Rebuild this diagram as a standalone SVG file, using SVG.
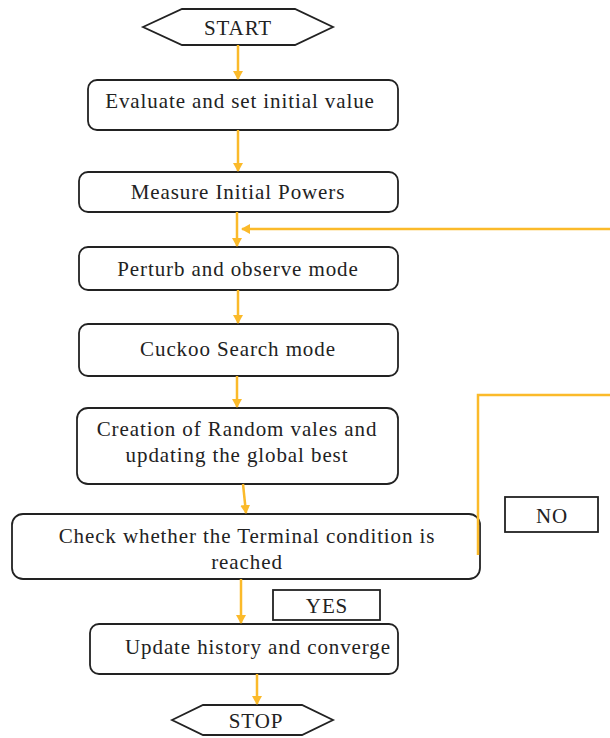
<svg xmlns="http://www.w3.org/2000/svg" width="610" height="738" viewBox="0 0 610 738">
<defs>
<marker id="ah" markerWidth="10" markerHeight="10" refX="8" refY="5" orient="auto" markerUnits="userSpaceOnUse">
<path d="M0,0 L9,5 L0,10 Z" fill="#FBBA2A"/>
</marker>
<style>
.box{fill:#fff;stroke:#222;stroke-width:1.8}
.lbl{fill:#222;font-family:'Liberation Serif','DejaVu Serif',serif;font-size:21px;letter-spacing:0.9px;text-anchor:middle}
.con{stroke:#FBBA2A;stroke-width:2.5;fill:none}
</style>
</defs>
<rect width="610" height="738" fill="#fff"/>
<g id="start">
<polygon class="box" points="143,27 182,9 295,9 333,27 295,45 182,45"/>
<text class="lbl" x="238" y="35">START</text>
</g>
<g id="n1">
<rect class="box" x="88" y="80" width="310" height="50" rx="9"/>
<text class="lbl" x="240" y="108">Evaluate and set initial value</text>
</g>
<g id="n2">
<rect class="box" x="79" y="172" width="319" height="40" rx="9"/>
<text class="lbl" x="238" y="199">Measure Initial Powers</text>
</g>
<g id="n3">
<rect class="box" x="79" y="247" width="319" height="43" rx="9"/>
<text class="lbl" x="238" y="276">Perturb and observe mode</text>
</g>
<g id="n4">
<rect class="box" x="79" y="324" width="319" height="52" rx="9"/>
<text class="lbl" x="238" y="356">Cuckoo Search mode</text>
</g>
<g id="n5">
<rect class="box" x="77" y="408" width="321" height="76" rx="11"/>
<text class="lbl" x="237" y="436">Creation of Random vales and</text>
<text class="lbl" x="237" y="462">updating the global best</text>
</g>
<g id="n6">
<rect class="box" x="12" y="514" width="468" height="65" rx="11"/>
<text class="lbl" x="247" y="543">Check whether the Terminal condition is</text>
<text class="lbl" x="247" y="569">reached</text>
</g>
<g id="no">
<rect class="box" x="505" y="497" width="93" height="35" rx="0"/>
<text class="lbl" x="552" y="523">NO</text>
</g>
<g id="yes">
<rect class="box" x="273" y="590" width="107" height="30" rx="0"/>
<text class="lbl" x="327" y="613">YES</text>
</g>
<g id="n7">
<rect class="box" x="90" y="624" width="308" height="50" rx="9"/>
<text class="lbl" x="258" y="654">Update history and converge</text>
</g>
<g id="stop">
<polygon class="box" points="172,720 203,705 302,705 333,720 302,735 203,735"/>
<text class="lbl" x="256" y="728">STOP</text>
</g>
<g id="connectors">
<line class="con" x1="238" y1="45" x2="238" y2="79" marker-end="url(#ah)"/>
<line class="con" x1="238" y1="130" x2="238" y2="171" marker-end="url(#ah)"/>
<line class="con" x1="237" y1="212" x2="237" y2="246" marker-end="url(#ah)"/>
<line class="con" x1="610" y1="229" x2="242" y2="229" marker-end="url(#ah)"/>
<line class="con" x1="238" y1="290" x2="238" y2="323" marker-end="url(#ah)"/>
<line class="con" x1="237" y1="376" x2="237" y2="407" marker-end="url(#ah)"/>
<line class="con" x1="243" y1="484" x2="246" y2="513" marker-end="url(#ah)"/>
<polyline class="con" points="478,555 478,395 610,395"/>
<line class="con" x1="241" y1="579" x2="241" y2="623" marker-end="url(#ah)"/>
<line class="con" x1="257" y1="674" x2="257" y2="704" marker-end="url(#ah)"/>
</g>
</svg>
